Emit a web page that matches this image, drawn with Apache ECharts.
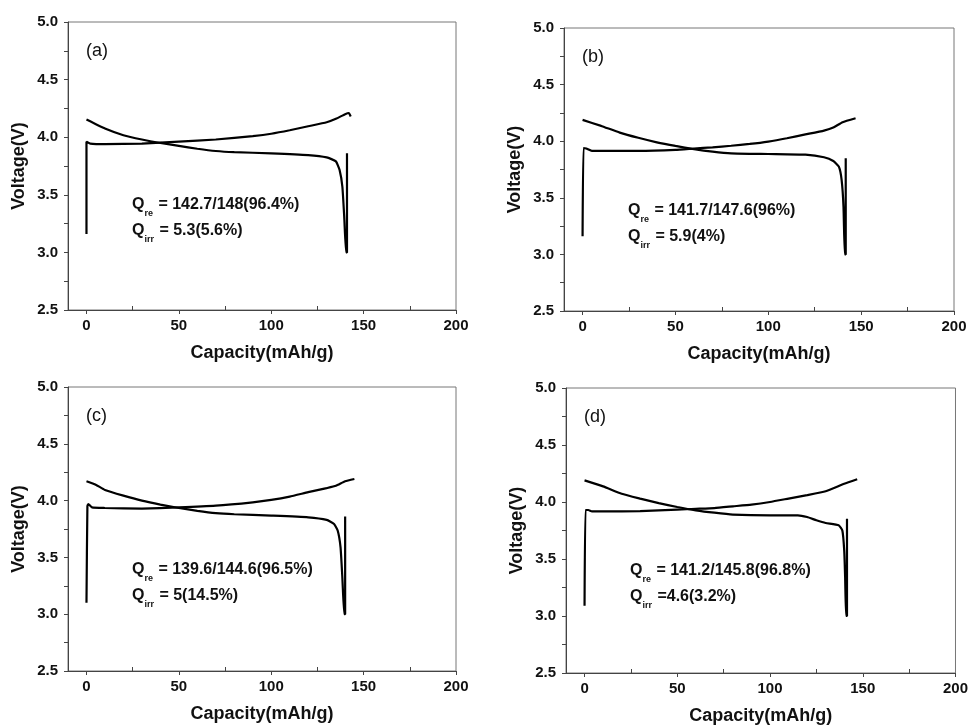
<!DOCTYPE html>
<html>
<head>
<meta charset="utf-8">
<script src="https://cdn.jsdelivr.net/npm/echarts@6.0.0/dist/echarts.min.js"></script>
<style>
  html, body { margin: 0; padding: 0; background: #fff; }
  #main { width: 971px; height: 728px; }
</style>
</head>
<body>
<div id="main"></div>
<script>
// tick values
var xMajor = [0, 50, 100, 150, 200];
var xMinor = [25, 75, 125, 175];
var yTicks = [2.5, 2.75, 3.0, 3.25, 3.5, 3.75, 4.0, 4.25, 4.5, 4.75, 5.0];
var yLabels = [2.5, 3.0, 3.5, 4.0, 4.5, 5.0];

// panel labels and notes
var panelNames = ['(a)', '(b)', '(c)', '(d)'];
var qre = ['142.7/148(96.4%)', '141.7/147.6(96%)', '139.6/144.6(96.5%)', '141.2/145.8(96.8%)'];
var qirr = [' = 5.3(5.6%)', ' = 5.9(4%)', ' = 5(14.5%)', ' =4.6(3.2%)'];

// (a)
var chargeA = [[0, 3.16], [0, 3.96], [2, 3.945], [10, 3.94], [30, 3.945], [50, 3.962], [70, 3.98],
  [90, 4.01], [100, 4.03], [110, 4.06], [120, 4.095], [130, 4.13], [135, 4.16], [140, 4.2], [142, 4.21], [143, 4.18]];
var dischargeA = [[0, 4.153], [10, 4.075], [20, 4.017], [30, 3.98], [40, 3.95], [50, 3.925], [60, 3.9],
  [70, 3.88], [80, 3.87], [100, 3.86], [120, 3.845], [130, 3.825], [135, 3.79], [137, 3.715],
  [138.5, 3.57], [139.5, 3.31], [140.5, 3.0], [141, 3.0], [141, 3.86]];
// (b)
var chargeB = [[0, 3.16], [0.5, 3.94], [2, 3.935], [5, 3.914], [10, 3.914], [30, 3.914], [50, 3.923],
  [60, 3.935], [70, 3.946], [80, 3.96], [90, 3.976], [100, 3.997], [110, 4.026], [120, 4.06],
  [130, 4.094], [135, 4.12], [140, 4.168], [147, 4.203]];
var dischargeB = [[0, 4.188], [10, 4.135], [20, 4.076], [30, 4.03], [40, 3.99], [50, 3.958], [60, 3.93],
  [70, 3.908], [80, 3.893], [100, 3.887], [120, 3.881], [130, 3.858], [135, 3.825], [138, 3.775],
  [139.5, 3.657], [140.5, 3.42], [141.2, 3.0], [141.7, 3.0], [141.7, 3.85]];
// (c)
var chargeC = [[0, 3.1], [0.5, 3.95], [1, 3.97], [3, 3.94], [10, 3.935], [30, 3.93], [50, 3.94],
  [70, 3.955], [90, 3.985], [100, 4.006], [110, 4.035], [120, 4.074], [130, 4.11], [135, 4.13],
  [140, 4.17], [145, 4.19]];
var dischargeC = [[0, 4.17], [5, 4.14], [10, 4.094], [20, 4.044], [30, 4.0], [40, 3.965], [50, 3.935],
  [60, 3.91], [70, 3.89], [80, 3.88], [100, 3.868], [120, 3.853], [130, 3.83], [134, 3.794],
  [136, 3.735], [137.5, 3.59], [138.5, 3.32], [139.5, 3.0], [140, 3.0], [140, 3.86]];
// (d)
var chargeD = [[0, 3.09], [0.5, 3.93], [2, 3.93], [4, 3.918], [10, 3.918], [30, 3.92], [50, 3.933],
  [60, 3.94], [70, 3.947], [80, 3.962], [90, 3.977], [100, 4.0], [110, 4.03], [120, 4.06],
  [130, 4.094], [140, 4.16], [147, 4.2]];
var dischargeD = [[0, 4.19], [10, 4.137], [20, 4.073], [30, 4.03], [40, 3.99], [50, 3.956], [60, 3.927],
  [70, 3.906], [80, 3.89], [100, 3.883], [115, 3.883], [120, 3.868], [125, 3.84], [130, 3.816],
  [137, 3.795], [139, 3.75], [140, 3.576], [140.5, 3.34], [141, 3.0], [141.5, 3.0], [141.5, 3.854]];

var charges = [chargeA, chargeB, chargeC, chargeD];
var discharges = [dischargeA, dischargeB, dischargeC, dischargeD];

var chart = echarts.init(document.getElementById('main'));

var boxes = [
  { left: 68, top: 22, width: 388, height: 288 },
  { left: 564, top: 28, width: 390, height: 283 },
  { left: 68, top: 387, width: 388, height: 284 },
  { left: 566, top: 388, width: 390, height: 285 }
];
var FONT = '"Liberation Sans", Arial, sans-serif';
var axisCol = '#444';

var grids = [], xAxes = [], yAxes = [], series = [], graphics = [];
boxes.forEach(function (b, i) {
  grids.push({ left: b.left, top: b.top, width: b.width, height: b.height,
    show: true, borderColor: '#777', borderWidth: 1, backgroundColor: 'transparent' });
  xAxes.push({
    gridIndex: i, type: 'value', min: -10, max: 200,
    name: 'Capacity(mAh/g)', nameLocation: 'middle', nameGap: 34,
    nameTextStyle: { fontFamily: FONT, fontWeight: 'bold', fontSize: 18, color: '#111' },
    axisLine: { onZero: false, lineStyle: { color: axisCol, width: 1 } },
    axisTick: { customValues: xMajor, length: 4, lineStyle: { color: axisCol } },
    axisLabel: { customValues: xMajor, margin: 8, fontFamily: FONT, fontWeight: 'bold', fontSize: 15, color: '#111' },
    splitLine: { show: false }
  });
  // inward minor ticks on the bottom edge
  xAxes.push({
    gridIndex: i, type: 'value', min: -10, max: 200, position: 'bottom',
    axisLine: { show: false, onZero: false },
    axisTick: { inside: true, customValues: xMinor, length: 4, lineStyle: { color: axisCol } },
    axisLabel: { show: false }, splitLine: { show: false }
  });
  yAxes.push({
    gridIndex: i, type: 'value', min: 2.5, max: 5.0, interval: 0.5,
    name: 'Voltage(V)', nameLocation: 'middle', nameGap: 40, nameRotate: 90,
    nameTextStyle: { fontFamily: FONT, fontWeight: 'bold', fontSize: 18, color: '#111' },
    axisLine: { show: true, onZero: false, lineStyle: { color: axisCol, width: 1 } },
    axisTick: { customValues: yTicks, length: 4, lineStyle: { color: axisCol } },
    axisLabel: { customValues: yLabels, margin: 10, fontFamily: FONT, fontWeight: 'bold', fontSize: 15, color: '#111',
      formatter: function (v) { return v.toFixed(1); } },
    splitLine: { show: false }
  });
  [charges[i], discharges[i]].forEach(function (d) {
    series.push({
      type: 'line', xAxisIndex: i * 2, yAxisIndex: i, data: d,
      showSymbol: false, smooth: 0.15,
      lineStyle: { color: '#000', width: 2.2 }, silent: true
    });
  });
  graphics.push({
    type: 'text', left: b.left + 18, top: b.top + 20,
    style: { text: panelNames[i], fontFamily: FONT, fontSize: 18, fill: '#111' }
  });
  graphics.push({
    type: 'text', left: b.left + 64, top: b.top + 175,
    style: {
      text: '{q|Q}{s|re}{q| = ' + qre[i] + '}\n{q|Q}{s|irr}{q|' + qirr[i] + '}',
      rich: {
        q: { fontFamily: FONT, fontWeight: 'bold', fontSize: 16, fill: '#111', lineHeight: 26, verticalAlign: 'middle' },
        s: { fontFamily: FONT, fontWeight: 'bold', fontSize: 9, fill: '#111', lineHeight: 26, verticalAlign: 'bottom', padding: [0, 1, 0, 0] }
      }
    }
  });
});

chart.setOption({
  backgroundColor: '#fff',
  animation: false,
  grid: grids,
  xAxis: xAxes,
  yAxis: yAxes,
  series: series,
  graphic: graphics
});
</script>
</body>
</html>
